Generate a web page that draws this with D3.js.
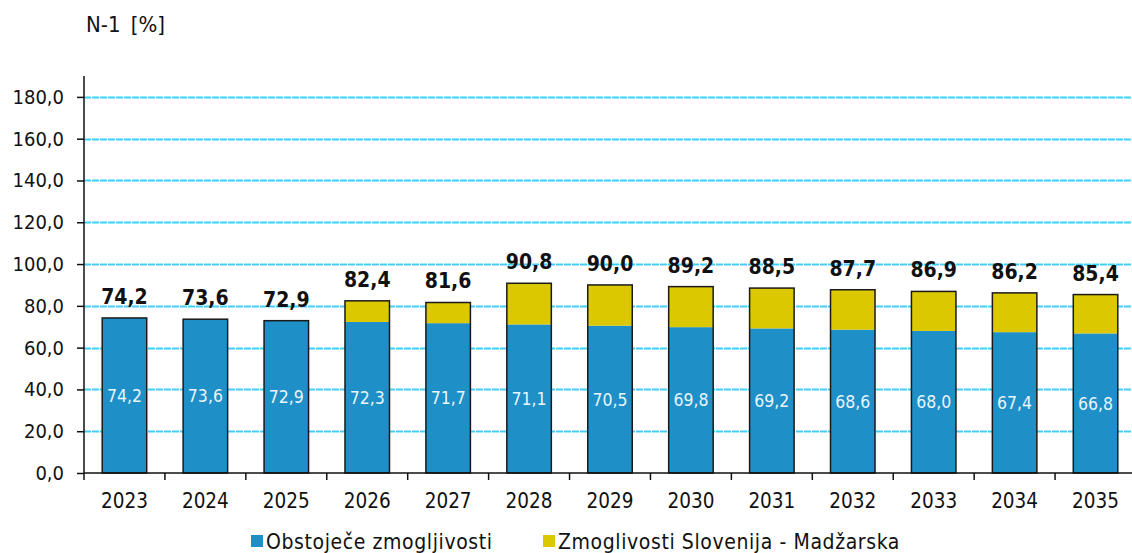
<!DOCTYPE html>
<html>
<head>
<meta charset="utf-8">
<script src="https://cdn.jsdelivr.net/npm/d3@7"></script>
<style>
  html, body { margin: 0; padding: 0; background: #fff; }
  svg { display: block; }
  text { font-family: "DejaVu Sans Condensed", "DejaVu Sans", sans-serif; font-stretch: condensed; fill: #111; }
</style>
</head>
<body>
<svg id="chart" width="1132" height="553"></svg>
<script>
// N-1 adequacy by year, split into existing capacity and the Slovenia–Hungary interconnection
const years = ["2023","2024","2025","2026","2027","2028","2029","2030","2031","2032","2033","2034","2035"];
const existing = [74.2, 73.6, 72.9, 72.3, 71.7, 71.1, 70.5, 69.8, 69.2, 68.6, 68.0, 67.4, 66.8];
const interconnection = [0, 0, 0, 10.1, 9.9, 19.7, 19.5, 19.4, 19.3, 19.1, 18.9, 18.8, 18.6];
const seriesNames = ["Obstoječe zmogljivosti", "Zmoglivosti Slovenija - Madžarska"];
const yTicks = [0, 20, 40, 60, 80, 100, 120, 140, 160, 180];
const colors = ["#1e8fc7", "#dcc800"];

const svg = d3.select("#chart");
const plotLeft = 84, plotRight = 1136, plotBottom = 473, plotTop = 76;

const x = d3.scaleBand().domain(years).range([plotLeft, plotRight]).paddingInner(0.45).paddingOuter(0.225);
const y = d3.scaleLinear().domain([0, 190]).range([plotBottom, plotTop]);

const fmt = v => v.toFixed(1).replace(".", ",");

// horizontal grid
svg.append("g")
  .selectAll("line")
  .data(yTicks.filter(t => t > 0))
  .join("line")
  .attr("x1", plotLeft).attr("x2", 1132)
  .attr("y1", d => Math.round(y(d)) + 0.5).attr("y2", d => Math.round(y(d)) + 0.5)
  .attr("stroke", "#45cdf7")
  .attr("stroke-width", 1.8)
  .attr("stroke-dasharray", "7,1");

// stacked bars
const rows = years.map((yr, i) => ({ year: yr, s0: existing[i], s1: interconnection[i] }));
const stack = d3.stack().keys(["s0", "s1"])(rows);

const gBars = svg.append("g");
stack.forEach((layer, li) => {
  gBars.append("g")
    .attr("fill", colors[li])
    .selectAll("rect")
    .data(layer.filter(d => d[1] - d[0] > 0))
    .join("rect")
    .attr("x", d => x(d.data.year))
    .attr("width", x.bandwidth())
    .attr("y", d => y(d[1]))
    .attr("height", d => y(d[0]) - y(d[1]));
});

// outline around each whole stack
const tops = stack[1];
gBars.append("g")
  .selectAll("rect")
  .data(tops)
  .join("rect")
  .attr("x", d => x(d.data.year))
  .attr("width", x.bandwidth())
  .attr("y", d => y(d[1]))
  .attr("height", d => y(0) - y(d[1]))
  .attr("fill", "none")
  .attr("stroke", "#1a1a1a")
  .attr("stroke-width", 1.5);

// values inside the existing-capacity segment
svg.append("g")
  .selectAll("text")
  .data(stack[0])
  .join("text")
  .attr("x", d => x(d.data.year) + x.bandwidth() / 2)
  .attr("y", d => y((d[0] + d[1]) / 2))
  .attr("dy", "0.36em")
  .attr("text-anchor", "middle")
  .style("font-size", "17.5px")
  .style("fill", "#eaf5fc")
  .text(d => fmt(d[1] - d[0]));

// totals above each stack
svg.append("g")
  .selectAll("text")
  .data(tops)
  .join("text")
  .attr("x", d => x(d.data.year) + x.bandwidth() / 2)
  .attr("y", d => y(d[1]) - 14)
  .attr("text-anchor", "middle")
  .style("font-size", "21px")
  .style("font-weight", "bold")
  .text(d => fmt(d[1]));

// y axis
const yAxis = svg.append("g")
  .attr("transform", `translate(${plotLeft},0)`)
  .call(d3.axisLeft(y).tickValues(yTicks).tickSize(7).tickPadding(13).tickFormat(fmt));
yAxis.select(".domain").attr("d", `M0,${plotTop}V${plotBottom}`).attr("stroke", "#111").attr("stroke-width", 1.5);
yAxis.selectAll(".tick line").attr("stroke", "#111").attr("stroke-width", 1.5);
yAxis.selectAll(".tick text").style("font-size", "20px").attr("font-family", null).attr("fill", "#111");

// x axis with ticks at category boundaries
const xg = svg.append("g").attr("transform", `translate(0,${plotBottom})`);
xg.append("line")
  .attr("x1", plotLeft).attr("x2", 1132).attr("y1", 0).attr("y2", 0)
  .attr("stroke", "#111").attr("stroke-width", 1.5);
const step = x.step();
xg.selectAll("line.b")
  .data(d3.range(years.length + 1))
  .join("line")
  .attr("class", "b")
  .attr("x1", i => plotLeft + i * step).attr("x2", i => plotLeft + i * step)
  .attr("y1", 0).attr("y2", 7)
  .attr("stroke", "#111").attr("stroke-width", 1.5);
xg.selectAll("text")
  .data(years)
  .join("text")
  .attr("x", d => x(d) + x.bandwidth() / 2)
  .attr("y", 35)
  .attr("text-anchor", "middle")
  .style("font-size", "20.5px")
  .text(d => d);

// axis title
svg.append("text")
  .attr("x", 86).attr("y", 32)
  .style("font-size", "22px")
  .style("word-spacing", "4px")
  .text("N-1 [%]");

// legend
const legendX = [251, 543];
const lg = svg.append("g");
seriesNames.forEach((name, i) => {
  lg.append("rect")
    .attr("x", legendX[i]).attr("y", 535)
    .attr("width", 12).attr("height", 12)
    .attr("fill", colors[i]);
  lg.append("text")
    .attr("x", legendX[i] + 15).attr("y", 549)
    .style("font-size", "21px")
    .style("letter-spacing", "0.6px")
    .text(name);
});
</script>
</body>
</html>
